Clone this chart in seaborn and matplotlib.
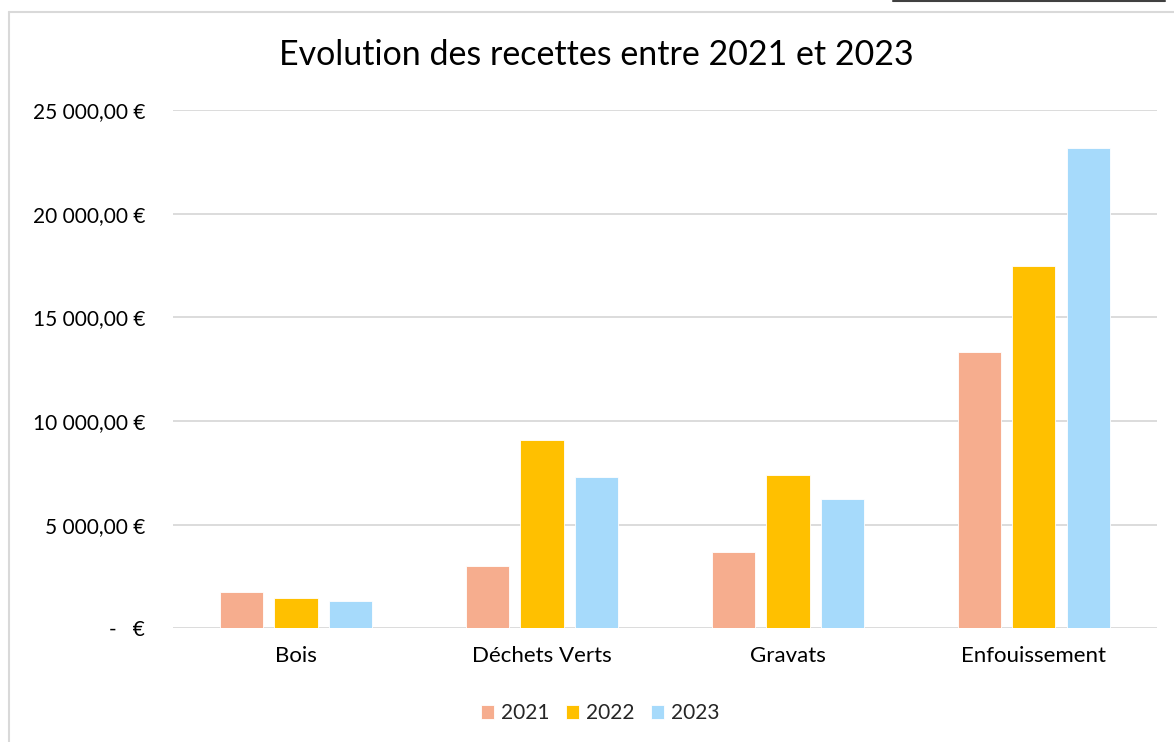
import matplotlib
matplotlib.use("Agg")
import matplotlib.pyplot as plt
import matplotlib.lines as mlines
import seaborn as sns
import pandas as pd

# donnees
categories = ["Bois", "Déchets Verts", "Gravats", "Enfouissement"]
years = ["2021", "2022", "2023"]
r2021 = [1740, 2995, 3690, 13330]
r2022 = [1465, 9065, 7390, 17470]
r2023 = [1320, 7305, 6250, 23155]
colors = ["#F6AD8E", "#FFC000", "#A6DAFB"]

rows = []
for vals, y in zip([r2021, r2022, r2023], years):
    for c, v in zip(categories, vals):
        rows.append({"cat": c, "annee": y, "recette": v})
df = pd.DataFrame(rows)

sns.set_style("white")
plt.rcParams["font.family"] = ["Lato", "DejaVu Sans"]

def euro(v, pos=None):
    if v == 0:
        return "-   €"
    s = "{:,.2f}".format(v).replace(",", " ").replace(".", ",")
    return s + " €"

fig = plt.figure(figsize=(11.74, 7.42), dpi=100)
ax = fig.add_axes([0.1474, 0.1532, 0.838, 0.6985])

sns.barplot(data=df, x="cat", y="recette", hue="annee", order=categories,
            hue_order=years, palette=colors, width=0.667, gap=0.21,
            saturation=1, ax=ax, edgecolor="white", linewidth=0.6)

ax.set_ylim(0, 25000)
ax.set_xlim(-0.5, 3.5)
ax.set_yticks([0, 5000, 10000, 15000, 20000, 25000])
ax.yaxis.set_major_formatter(plt.FuncFormatter(euro))
ax.grid(axis="y", color="#D9D9D9", linewidth=1.3)
ax.set_axisbelow(True)
for s in ["left", "right", "top", "bottom"]:
    ax.spines[s].set_visible(False)
ax.tick_params(axis="y", labelsize=15, pad=20, length=0, colors="#000000")
ax.tick_params(axis="x", labelsize=16, pad=13, length=0, colors="#000000")
ax.set_xlabel("")
ax.set_ylabel("")

fig.text(0.508, 0.926, "Evolution des recettes entre 2021 et 2023",
         ha="center", va="center", fontsize=24.5, color="#000000")

handles, labels = ax.get_legend_handles_labels()
ax.legend_.remove()
fig.legend(handles, labels, loc="center", bbox_to_anchor=(0.511, 0.039),
           ncol=3, frameon=False, fontsize=15, handlelength=0.65,
           handleheight=0.65, handletextpad=0.3, columnspacing=0.8)

# cadre du graphique
fig.add_artist(mlines.Line2D([8.5 / 1174, 8.5 / 1174], [0, 1 - 12 / 742],
                             color="#D9D9D9", linewidth=1.5, transform=fig.transFigure))
fig.add_artist(mlines.Line2D([8.5 / 1174, 1], [1 - 12 / 742, 1 - 12 / 742],
                             color="#D9D9D9", linewidth=1.5, transform=fig.transFigure))
fig.add_artist(mlines.Line2D([893 / 1174, 1165 / 1174], [1 - 0.5 / 742, 1 - 0.5 / 742],
                             color="#404040", linewidth=1.5, transform=fig.transFigure))

fig.savefig("out.png", dpi=100)
